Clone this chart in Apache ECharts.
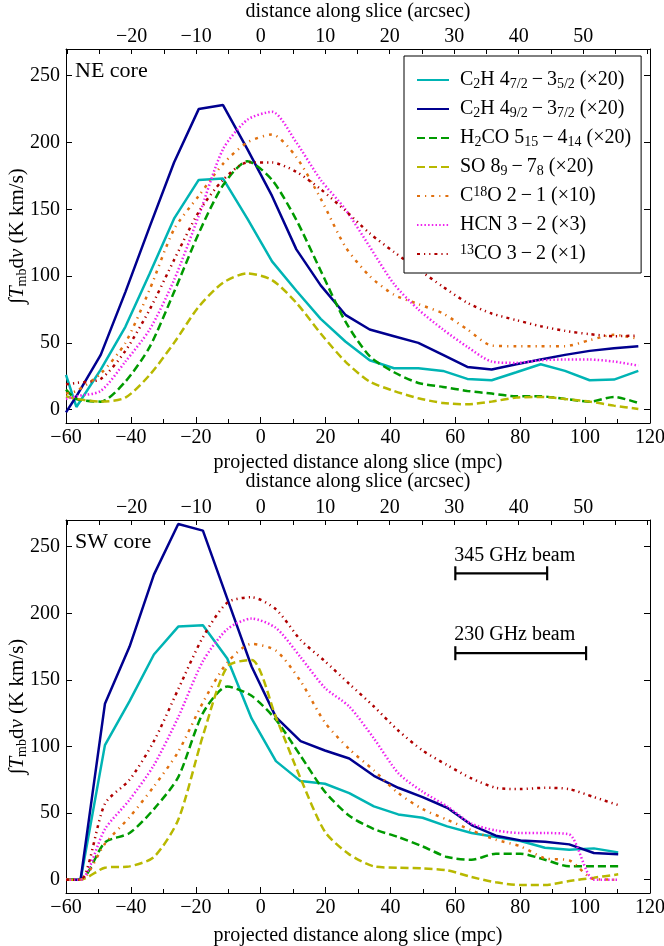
<!DOCTYPE html>
<html><head><meta charset="utf-8">
<script src="https://cdn.jsdelivr.net/npm/echarts@6/dist/echarts.min.js"></script>
<style>html,body{margin:0;padding:0;background:#fff}#c{width:664px;height:946px}</style>
</head><body><div id="c"></div>
<script>
// ---- data ----
const seriesNames = ['C2H 7/2', 'C2H 9/2', 'H2CO', 'SO', 'C18O', 'HCN', '13CO'];
const legendLabels = [
  'C{s|2}H 4{s|7/2}\u2009\u2212\u20093{s|5/2} (\u00d720)',
  'C{s|2}H 4{s|9/2}\u2009\u2212\u20093{s|7/2} (\u00d720)',
  'H{s|2}CO 5{s|15}\u2009\u2212\u20094{s|14} (\u00d720)',
  'SO 8{s|9}\u2009\u2212\u20097{s|8} (\u00d720)',
  'C{p|18}O 2\u2009\u2212\u20091 (\u00d710)',
  'HCN 3\u2009\u2212\u20092 (\u00d73)',
  '{p|13}CO 3\u2009\u2212\u20092 (\u00d71)'
];
// NE core (top panel)
const xTop = [-60, -56.8, -49.3, -41.7, -34.2, -26.7, -19.1, -11.6, -4.1, 3.5, 11.0, 18.5, 26.1, 33.6, 41.1, 48.6, 56.2, 63.7, 71.2, 78.8, 86.3, 93.8, 101.4, 108.9, 116.4];
const c2h72Top = [26, 2, 30, 62, 102, 143, 172, 173, 143, 111, 89, 68, 51, 37, 31, 31, 29, 23, 22, 28, 34, 29, 22, 22.5, 29];
const c2h92Top = [-2, 10, 41, 88, 137, 185, 225, 228, 195, 160, 120, 93, 71, 60, 55, 50, 41, 32, 30, 34, 37.5, 41, 44, 46, 47.5];
const h2coTop = [15, 8, 6, 21, 47, 88, 132, 168, 186, 172, 142, 104, 66, 40, 28, 20, 17, 14, 12, 10, 10, 8, 6, 9.5, 5];
const soTop = [10, 8, 6, 9, 26, 50, 77, 95, 102, 97, 80, 57, 36, 21, 14, 8.5, 5, 4, 6, 9, 9.5, 8, 6, 3, 0.5];
const c18oTop = [12, 14, 27, 50, 90, 135, 160, 184, 200, 206, 189, 158, 122, 100, 86, 79, 72, 60, 48, 47.5, 47.5, 47.5, 52, 56, 53];
const hcnTop = [8, 10, 14, 36, 60, 97, 145, 195, 217, 223, 200, 172, 150, 122, 94, 75, 60, 47, 36, 35, 37, 37.5, 37.5, 36, 33];
const co13Top = [19, 20, 23, 44, 75, 112, 148, 172, 185, 185, 178, 165, 149, 132, 118, 105, 92, 80, 72, 67, 62.5, 59, 56.5, 55, 55.5];
// SW core (bottom panel)
const xBot = [-60, -55.5, -48.0, -40.4, -32.9, -25.4, -17.8, -10.3, -2.8, 4.7, 12.3, 19.8, 27.3, 34.9, 42.4, 49.9, 57.5, 65.0, 72.5, 80.1, 87.6, 95.1, 102.7, 110.2];
const c2h72Bot = [0, 0, 101, 134, 169, 190, 191, 166, 121, 89, 74, 72, 65, 55, 49, 46.5, 40, 35, 32, 29, 24, 22.5, 23.5, 20.5];
const c2h92Bot = [0, 0, 132, 175, 229, 267, 262, 211, 160, 122, 104, 97, 91, 78, 69, 62, 54, 41, 33, 29.5, 28.5, 26.5, 20, 19];
const h2coBot = [0, 0, 28, 35, 53, 77, 125, 145, 138, 120, 93, 66, 48, 38, 32, 25, 17, 15, 19.5, 19.5, 15, 10, 10, 10];
const soBot = [0, 0, 9, 10, 17, 45, 108, 160, 165, 122, 76, 36, 19, 10, 9, 8.5, 7, 2, -2, -4, -4, -1, 1.5, 4];
const c18oBot = [0, 0, 27, 47, 70, 96, 133, 163, 177, 172, 149, 118, 98, 82, 65, 53, 45, 37, 30, 25, 16, 14.5, 0.5, 0];
const hcnBot = [0, 0, 38, 60, 86, 122, 164, 188, 196, 189, 167, 144, 130, 106, 80, 66, 55, 42, 37, 35, 35, 34, 0, 0];
const co13Bot = [0, 0, 57, 75, 104, 143, 182, 208, 212, 203, 180, 164, 147, 130, 112, 97, 86, 76, 69, 68, 69, 68, 62, 56];
// beam markers (mpc)
const beamNames = ['345 GHz beam', '230 GHz beam'];
const beamStart = [60, 60];
const beamEnd = [88.3, 100.3];
const beamLevel = [230, 170];
// tick labels
const mpcTicks = {min: -60, max: 120, interval: 20};
const mpcPerArcsec = 1.988;
const arcsecLabels = [-20, -10, 0, 10, 20, 30, 40, 50];
const arcsecTicks = [-30, -25, -20, -15, -10, -5, 0, 5, 10, 15, 20, 25, 30, 35, 40, 45, 50, 55, 60];
const yLabels = [0, 50, 100, 150, 200, 250];
const yRange = {min: -10, max: 270};

// ---- styles ----
const FONT = "'Liberation Serif','DejaVu Serif',serif";
const FS = 20;
const styles = [
  {color: '#00b4b4', type: 'solid', smooth: false},
  {color: '#00008f', type: 'solid', smooth: false},
  {color: '#009a00', type: [8, 4], smooth: 0.25},
  {color: '#b8b800', type: [8, 4], smooth: 0.25},
  {color: '#e0700f', type: [3, 5, 1.2, 5], smooth: 0.25},
  {color: '#ee22ee', type: [1.5, 2.2], smooth: 0.25},
  {color: '#b00000', type: [3, 4, 1.2, 4, 1.2, 4], smooth: 0.25}
];
const topSets = [c2h72Top, c2h92Top, h2coTop, soTop, c18oTop, hcnTop, co13Top];
const botSets = [c2h72Bot, c2h92Bot, h2coBot, soBot, c18oBot, hcnBot, co13Bot];

const minus = v => (v < 0 ? '\u2212' + Math.abs(Math.round(v)) : String(Math.round(v)));
const labelStyle = {color: '#000', fontSize: FS, fontFamily: FONT};
const nameStyle = {color: '#000', fontSize: FS, fontFamily: FONT};
const axisLine = {show: true, onZero: false, lineStyle: {color: '#000', width: 1}};

function mpcAxis(gridIndex, gap) {
  return {
    type: 'value', gridIndex, position: 'bottom', min: mpcTicks.min, max: mpcTicks.max, interval: mpcTicks.interval,
    name: 'projected distance along slice (mpc)', nameLocation: 'middle', nameGap: gap, nameTextStyle: nameStyle,
    axisLine,
    axisTick: {show: true, inside: true, length: 6, lineStyle: {color: '#000'}},
    minorTick: {show: true, splitNumber: 2, length: 4, lineStyle: {color: '#000'}},
    splitLine: {show: false}, minorSplitLine: {show: false},
    axisLabel: Object.assign({margin: 5, formatter: minus}, labelStyle)
  };
}
function arcsecAxis(gridIndex, gap) {
  return {
    type: 'value', gridIndex, position: 'top',
    min: mpcTicks.min / mpcPerArcsec, max: mpcTicks.max / mpcPerArcsec,
    name: 'distance along slice (arcsec)', nameLocation: 'middle', nameGap: gap, nameTextStyle: nameStyle,
    axisLine,
    axisTick: {show: true, inside: true, length: 5, customValues: arcsecTicks, lineStyle: {color: '#000'}},
    splitLine: {show: false},
    axisLabel: Object.assign({margin: 2, formatter: minus, customValues: arcsecLabels}, labelStyle)
  };
}
function yAx(gridIndex, position, showLabels) {
  return {
    type: 'value', gridIndex, position, min: yRange.min, max: yRange.max,
    name: showLabels ? '\u222b{i|T}{s|mb}d{i|v} (K km/s)' : '',
    nameLocation: 'middle', nameRotate: 90, nameGap: 37, nameMoveOverlap: false,
    nameTextStyle: Object.assign({lineHeight: 24, rich: {
      i: {fontStyle: 'italic', fontSize: 21, fontFamily: FONT, lineHeight: 24},
      s: {fontSize: 14, fontFamily: FONT, lineHeight: 14, verticalAlign: 'bottom'}
    }}, nameStyle, {fontSize: 21}),
    axisLine,
    axisTick: {show: true, inside: true, length: 6, customValues: yLabels, lineStyle: {color: '#000'}},
    splitLine: {show: false},
    axisLabel: Object.assign({show: showLabels, margin: 6, formatter: minus, customValues: yLabels}, labelStyle)
  };
}

const series = [];
seriesNames.forEach((nm, k) => {
  const st = styles[k];
  [[0, xTop, topSets], [1, xBot, botSets]].forEach(([g, xs, sets]) => {
    series.push({
      name: nm, type: 'line', xAxisIndex: g * 2, yAxisIndex: g * 2, symbol: 'none', smooth: st.smooth,
      lineStyle: {color: st.color, width: 2.5, type: st.type, cap: 'butt'}, itemStyle: {color: st.color},
      data: xs.map((x, i) => [x, sets[k][i]]), z: 3 + k, animation: false
    });
  });
});
beamNames.forEach((bn, k) => {
  series.push({
    name: bn, type: 'line', xAxisIndex: 2, yAxisIndex: 2,
    symbol: 'rect', symbolSize: [2.2, 14], showSymbol: true,
    lineStyle: {color: '#000', width: 2.2}, itemStyle: {color: '#000'},
    data: [
      {value: [beamStart[k], beamLevel[k]], label: {show: true, formatter: bn, position: [0, -21], color: '#000', fontSize: FS, fontFamily: FONT}},
      {value: [beamEnd[k], beamLevel[k]]}
    ],
    z: 20, animation: false
  });
});

const chart = echarts.init(document.getElementById('c'), null, {renderer: 'canvas'});
chart.setOption({
  animation: false,
  backgroundColor: '#fff',
  title: [
    {text: 'NE core', left: 70, top: 55, textStyle: {fontSize: 22, fontWeight: 'normal', fontFamily: FONT, color: '#000'}},
    {text: 'SW core', left: 70, top: 526, textStyle: {fontSize: 22, fontWeight: 'normal', fontFamily: FONT, color: '#000'}}
  ],
  grid: [
    {left: 66, top: 49, width: 584, height: 374, outerBoundsMode: 'none', containLabel: false},
    {left: 66, top: 520, width: 584, height: 373, outerBoundsMode: 'none', containLabel: false}
  ],
  xAxis: [mpcAxis(0, 30), arcsecAxis(0, 27), mpcAxis(1, 33), arcsecAxis(1, 28)],
  yAxis: [yAx(0, 'left', true), yAx(0, 'right', false), yAx(1, 'left', true), yAx(1, 'right', false)],
  legend: {
    data: seriesNames, orient: 'vertical', left: 404, top: 56,
    padding: [13, 10, 8, 12], itemGap: 7, itemWidth: 32, itemHeight: 14,
    backgroundColor: '#fff', borderColor: '#000', borderWidth: 1, borderRadius: 0,
    itemStyle: {opacity: 0},
    formatter: nm => legendLabels[seriesNames.indexOf(nm)],
    textStyle: {color: '#000', fontSize: FS, fontFamily: FONT, lineHeight: 22, padding: [0, 0, 0, 6],
      rich: {
        s: {fontSize: 14, fontFamily: FONT, lineHeight: 14, verticalAlign: 'bottom', color: '#000'},
        p: {fontSize: 14, fontFamily: FONT, lineHeight: 14, verticalAlign: 'top', color: '#000'}
      }},
    z: 30
  },
  series
});
</script></body></html>
